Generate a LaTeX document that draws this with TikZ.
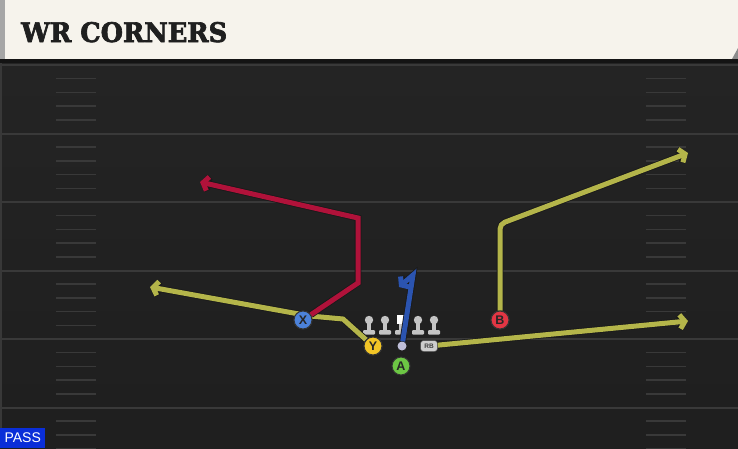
\documentclass[tikz,border=0pt]{standalone}
\usepackage{fontspec}
\setsansfont{Liberation Sans}
\newfontfamily\titlefont{DejaVu Serif}[FakeBold=2.5]
\usepackage{tikz}
\usetikzlibrary{arrows.meta, positioning, shapes}
\definecolor{cream}{HTML}{F6F3EC}
\definecolor{turf}{HTML}{242424}
\definecolor{yardgray}{HTML}{393939}
\definecolor{wryellow}{HTML}{B4B54A}
\definecolor{wrred}{HTML}{B0123A}
\definecolor{wrblue}{HTML}{2B54B0}
\definecolor{xblue}{HTML}{4C82DA}
\definecolor{yyellow}{HTML}{F2C526}
\definecolor{agreen}{HTML}{6CC644}
\definecolor{bred}{HTML}{E23644}
\definecolor{linegray}{HTML}{C4C4C4}
\definecolor{passblue}{HTML}{0A2ED8}
\tikzset{
        x=1pt, y=-1pt, % one unit is one pixel, counted from the top
        player/.style={circle, draw=black!80, line width=1pt, minimum size=18pt, inner sep=0pt,
                       font=\sffamily\bfseries\fontsize{12.5}{12.5}\selectfont, text=black!85}, % skill players
        route/.style={draw=#1, line width=5pt, line join=miter,
                      -{Straight Barb[length=5pt,width=14pt]},
                      preaction={draw=black!90, line width=6.6pt, line join=miter,
                                 -{Straight Barb[length=5pt,width=14pt]}}}, % routes with dark rim
        yardline/.style={draw=yardgray, line width=2pt},
        hashmark/.style={draw=yardgray, line width=1.5pt},
        lineman/.pic={
            \fill[linegray] (0,-6) circle (4.2pt);
            \fill[linegray] (-2,-6) rectangle (2,5);
            \fill[linegray, rounded corners=1pt] (-6,4) rectangle (6,8.5);
        },
    }
\begin{document}
\begin{tikzpicture}
    \useasboundingbox (0,0) rectangle (738,448);
    % field and header
    \shade[top color=turf, bottom color=black!88] (0,59) rectangle (738,448);
    \fill[black!78] (0,59) rectangle (2,448);
    \fill[cream] (5,0) -- (738,0) -- (738,48) -- (732,59) -- (5,59) -- cycle;
    \fill[black!35] (0,0) rectangle (5,59);
    \fill[black!45] (738,48) -- (732,59) -- (738,59) -- cycle;
    \fill[black!92] (0,59) rectangle (738,63);
    \foreach \k in {0,...,5} {
        \draw[yardline] (2,65+68.5*\k) -- (738,65+68.5*\k);
        \foreach \j in {1,...,4} {
            \draw[hashmark] (56,65+68.5*\k+13.7*\j) -- (96,65+68.5*\k+13.7*\j);
            \draw[hashmark] (646,65+68.5*\k+13.7*\j) -- (686,65+68.5*\k+13.7*\j);
        }
    }
    \node[anchor=base west, inner sep=0pt, text=black!88] (title) at (21,42) {\resizebox{206pt}{20pt}{\titlefont\bfseries WR CORNERS}};
    \node[anchor=south west, fill=passblue, text=white, font=\sffamily\fontsize{14}{14}\selectfont,
          minimum width=45pt, minimum height=20pt, inner sep=0pt] (pass) at (0,448) {PASS};
    % offensive line
    \foreach \lx in {369,385,418,434} \pic at (\lx,326) {lineman};
    \fill[linegray] (399,320) rectangle (403,331);
    \fill[linegray, rounded corners=1pt] (395,330) rectangle (407,334.5);
    \node[fill=white, minimum size=9pt, inner sep=0pt] (C) at (401,319) {};
    % backs and receivers
    \node[circle, fill=gray!75!blue!40, minimum size=9pt, inner sep=0pt] (QB) at (402,346) {};
    \node[player, fill=xblue] (X) at (303,320) {X};
    \node[player, fill=yyellow] (Y) at (373,346) {Y};
    \node[player, fill=agreen] (A) at (401,366) {A};
    \node[player, fill=bred] (B) at (500,320) {B};
    \node[rectangle, rounded corners=3pt, fill=linegray!85, draw=black!70, line width=0.5pt,
          minimum width=17pt, minimum height=11pt, inner sep=0pt,
          font=\sffamily\bfseries\fontsize{6.5}{6.5}\selectfont, text=black!75] (RB) at (429,346) {RB};
    % route break points
    \coordinate (ycut) at (343,319);
    \coordinate (yflat) at (310,316);
    \coordinate (yend) at (150,287);
    \coordinate (xslant) at (358,283);
    \coordinate (xstem) at (358,218);
    \coordinate (xend) at (200,182);
    \coordinate (bstem) at (500,224);
    \coordinate (bend) at (688,153);
    \coordinate (rbend) at (688,321);
    \coordinate (atop) at (413,275);
    \coordinate (aend) at (399,287);
    \draw[route=wryellow] (Y) -- (ycut) -- (yflat) -- (yend);
    \draw[route=wrred] (X) -- (xslant) -- (xstem) -- (xend);
    \draw[route=wryellow, rounded corners=5pt] (B) -- (bstem) -- (bend);
    \draw[route=wryellow] (RB) -- (rbend);
    \draw[route=wrblue] (QB) -- (atop) -- (aend);
    % players on top of their routes
    \node[player, fill=xblue] at (X) {X};
    \node[player, fill=yyellow] at (Y) {Y};
    \node[player, fill=bred] at (B) {B};
\end{tikzpicture}
\end{document}
